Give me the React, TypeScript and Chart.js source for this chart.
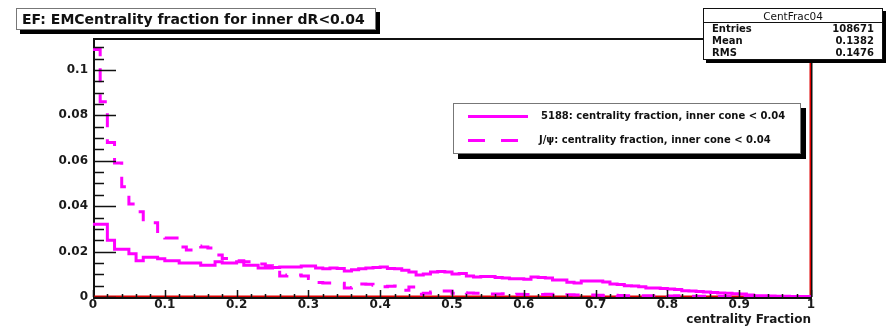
import React, { useEffect, useRef } from "react";
import { Chart, registerables } from "chart.js";

Chart.register(...registerables);

// Histogram binning: 100 bins of width 0.01 over [0, 1]
const BIN_WIDTH = 0.01;

// 5188 sample: normalised EM centrality fraction per bin
const sample5188 = [
  0.032, 0.032, 0.025, 0.021, 0.021, 0.019, 0.016, 0.0175, 0.0175, 0.0168,
  0.016, 0.016, 0.015, 0.015, 0.015, 0.014, 0.014, 0.0155, 0.015, 0.015,
  0.0155, 0.014, 0.014, 0.0128, 0.0128, 0.013, 0.0132, 0.0132, 0.0132, 0.0137,
  0.0137, 0.0128, 0.0124, 0.0128, 0.0126, 0.0115, 0.012, 0.0124, 0.0128, 0.013,
  0.0132, 0.0125, 0.0124, 0.0118, 0.011, 0.0097, 0.0101, 0.011, 0.0112, 0.011,
  0.0101, 0.0104, 0.0092, 0.0088, 0.009, 0.009, 0.0086, 0.0084, 0.008, 0.008,
  0.0078, 0.0088, 0.0086, 0.0084, 0.0075, 0.0075, 0.0065, 0.0062, 0.007, 0.007,
  0.007, 0.0066, 0.0057, 0.0055, 0.005, 0.0049, 0.0045, 0.004, 0.004, 0.0037,
  0.0035, 0.0033, 0.0028, 0.0026, 0.0024, 0.0022, 0.002, 0.0018, 0.0017, 0.0014,
  0.0013, 0.0009, 0.0006, 0.0005, 0.0004, 0.0003, 0.0003, 0.0002, 0.0002, 0.0002,
];

// J/psi sample: normalised EM centrality fraction per bin
const sampleJpsi = [
  0.109, 0.086, 0.068, 0.059, 0.0486, 0.041, 0.0375, 0.033, 0.0327, 0.027,
  0.026, 0.026, 0.022, 0.0207, 0.0225, 0.022, 0.0216, 0.0185, 0.017, 0.0165,
  0.016, 0.0155, 0.015, 0.0145, 0.0138, 0.0133, 0.0092, 0.0097, 0.0097, 0.0093,
  0.0082, 0.0064, 0.0062, 0.0062, 0.0061, 0.004, 0.0042, 0.0057, 0.0056, 0.0052,
  0.0045, 0.0047, 0.0049, 0.003, 0.0044, 0.0012, 0.0016, 0.0022, 0.0026, 0.0026,
  0.0017, 0.0019, 0.0018, 0.0016, 0.0015, 0.0013, 0.0013, 0.0014, 0.0011, 0.0012,
  0.0011, 0.001, 0.0011, 0.0012, 0.001, 0.0009, 0.001, 0.0009, 0.0008, 0.0009,
  0.0008, 0.0007, 0.0008, 0.0007, 0.0006, 0.0007, 0.0006, 0.0005, 0.0006, 0.0005,
  0.0004, 0.0005, 0.0004, 0.0003, 0.0003, 0.0003, 0.0002, 0.0002, 0.0001, 0.0001,
  0.0001, 0.0001, 0.0001, 0.0001, 0.0001, 0.0001, 0.0001, 0.0001, 0.0001, 0.0001,
];

// Reference histogram: empty up to 1, all entries piled into the bin starting at 1
const refEdges = [0, 1, 1.01];
const refValues = [0, 0.52];

const xTickValues = [0, 0.1, 0.2, 0.3, 0.4, 0.5, 0.6, 0.7, 0.8, 0.9, 1];
const xTickLabels = ["0", "0.1", "0.2", "0.3", "0.4", "0.5", "0.6", "0.7", "0.8", "0.9", "1"];
const yTickValues = [0, 0.02, 0.04, 0.06, 0.08, 0.1];
const yTickLabels = ["0", "0.02", "0.04", "0.06", "0.08", "0.1"];

const X_MINOR_STEP = 0.02;
const Y_MINOR_STEP = 0.005;
const Y_MAX = 0.1132;

const titleText = "EF: EMCentrality fraction for inner dR<0.04";
const xAxisTitle = "centrality Fraction";
const statsName = "CentFrac04";
const statsLabels = ["Entries", "Mean", "RMS"];
const statsValues = ["108671", "0.1382", "0.1476"];
const legendLabels = [
  "5188: centrality fraction, inner cone < 0.04",
  "J/ψ: centrality fraction, inner cone < 0.04",
];

const MAGENTA = "#ff00ff";
const RED = "#e00000";
const FONT = "'DejaVu Sans', 'Liberation Sans', sans-serif";

function histPoints(values: number[]) {
  const pts = values.map((v, i) => ({ x: i * BIN_WIDTH, y: v }));
  pts.push({ x: values.length * BIN_WIDTH, y: values[values.length - 1] });
  return pts;
}

function edgePoints(edges: number[], values: number[]) {
  const pts = values.map((v, i) => ({ x: edges[i], y: v }));
  pts.push({ x: edges[edges.length - 1], y: values[values.length - 1] });
  return pts;
}

// ROOT-style frame: axis lines under the histograms, inward ticks on top
const rootFrame = {
  id: "rootFrame",
  beforeDatasetsDraw(chart: any) {
    const { ctx, chartArea: a } = chart;
    ctx.save();
    ctx.strokeStyle = "#111";
    ctx.lineWidth = 2;
    ctx.beginPath();
    ctx.moveTo(a.left, a.top - 1);
    ctx.lineTo(a.right, a.top - 1);
    ctx.moveTo(a.right + 0.5, a.top - 1);
    ctx.lineTo(a.right + 0.5, a.bottom);
    ctx.stroke();
    ctx.beginPath();
    ctx.moveTo(a.left + 1, a.top - 2);
    ctx.lineTo(a.left + 1, a.bottom + 2);
    ctx.moveTo(a.left, a.bottom + 1);
    ctx.lineTo(a.right + 1, a.bottom + 1);
    ctx.stroke();
    ctx.restore();
  },
  afterDatasetsDraw(chart: any) {
    const { ctx, chartArea: a, scales } = chart;
    const xs = scales.x;
    const ys = scales.y;
    ctx.save();
    ctx.strokeStyle = "#111";
    ctx.lineWidth = 1.5;
    ctx.beginPath();
    for (let k = 0; k * X_MINOR_STEP <= 1 + 1e-9; k++) {
      const v = k * X_MINOR_STEP;
      const major = Math.abs(v * 10 - Math.round(v * 10)) < 1e-6;
      const px = Math.round(xs.getPixelForValue(v)) + 0.5;
      ctx.moveTo(px, a.bottom);
      ctx.lineTo(px, a.bottom - (major ? 7 : 3));
    }
    for (let k = 0; k * Y_MINOR_STEP <= Y_MAX + 1e-9; k++) {
      const v = k * Y_MINOR_STEP;
      const major = Math.abs(v * 50 - Math.round(v * 50)) < 1e-6;
      const py = Math.round(ys.getPixelForValue(v)) + 0.5;
      ctx.moveTo(a.left, py);
      ctx.lineTo(a.left + (major ? 23 : 11), py);
    }
    ctx.stroke();
    ctx.restore();
  },
};

function HistChart() {
  const ref = useRef<HTMLCanvasElement | null>(null);
  useEffect(() => {
    if (!ref.current) return;
    const chart = new Chart(ref.current, {
      type: "line",
      data: {
        datasets: [
          {
            label: legendLabels[0],
            data: histPoints(sample5188),
            borderColor: MAGENTA,
            borderWidth: 3,
            stepped: "before",
            pointRadius: 0,
            fill: false,
          },
          {
            label: legendLabels[1],
            data: histPoints(sampleJpsi),
            borderColor: MAGENTA,
            borderWidth: 3,
            borderDash: [14, 12],
            stepped: "before",
            pointRadius: 0,
            fill: false,
          },
          {
            label: "reference",
            data: edgePoints(refEdges, refValues),
            borderColor: RED,
            borderWidth: 3,
            stepped: "before",
            pointRadius: 0,
            fill: false,
          },
        ],
      },
      options: {
        animation: false,
        responsive: false,
        devicePixelRatio: 1,
        parsing: false,
        layout: { padding: { top: 40, right: 80, left: 0, bottom: 0 } },
        plugins: { legend: { display: false }, tooltip: { enabled: false }, title: { display: false } },
        scales: {
          x: {
            type: "linear",
            min: 0,
            max: 1,
            grid: { display: false, drawTicks: false },
            border: { display: false },
            afterBuildTicks: (s: any) => {
              s.ticks = xTickValues.map((v) => ({ value: v }));
            },
            afterFit: (s: any) => {
              s.height = 30;
            },
            ticks: {
              autoSkip: false,
              maxRotation: 0,
              padding: 1,
              color: "#1a1a1a",
              font: { family: FONT, size: 12, weight: "bold" },
              callback: (_v: any, i: number) => xTickLabels[i],
            },
            title: {
              display: true,
              text: xAxisTitle,
              align: "end",
              color: "#1a1a1a",
              padding: 0,
              font: { family: FONT, size: 12, weight: "bold" },
            },
          },
          y: {
            type: "linear",
            min: 0,
            max: Y_MAX,
            grid: { display: false, drawTicks: false },
            border: { display: false },
            afterBuildTicks: (s: any) => {
              s.ticks = yTickValues.map((v) => ({ value: v }));
            },
            afterFit: (s: any) => {
              s.width = 93;
            },
            ticks: {
              padding: 5,
              color: "#1a1a1a",
              font: { family: FONT, size: 12, weight: "bold" },
              callback: (_v: any, i: number) => yTickLabels[i],
            },
          },
        },
      },
      plugins: [rootFrame],
    });
    return () => chart.destroy();
  }, []);
  return (
    <canvas
      ref={ref}
      width={891}
      height={327}
      style={{ position: "absolute", left: 0, top: 0, width: 891, height: 327 }}
    />
  );
}

const textBase: React.CSSProperties = {
  position: "absolute",
  fontFamily: FONT,
  color: "#111",
  whiteSpace: "nowrap",
  lineHeight: "12px",
};

export default function App() {
  return (
    <div style={{ position: "absolute", left: 0, top: 0, width: 891, height: 327, background: "#fff", overflow: "hidden" }}>
      <HistChart />

      {/* title pave */}
      <div
        style={{
          position: "absolute",
          left: 16,
          top: 8,
          width: 358,
          height: 20,
          background: "#fff",
          border: "1px solid #777",
          boxShadow: "4px 4px 0 #000",
        }}
      >
        <div style={{ ...textBase, left: 5, top: 3, fontSize: 14, fontWeight: "bold", lineHeight: "15px" }}>{titleText}</div>
      </div>

      {/* statistics box */}
      <div
        style={{
          position: "absolute",
          left: 703,
          top: 8,
          width: 178,
          height: 50,
          background: "#fff",
          border: "1px solid #111",
          boxShadow: "3px 3px 0 #000",
        }}
      >
        <div style={{ ...textBase, left: 0, width: 178, textAlign: "center", top: 1, fontSize: 10.5 }}>{statsName}</div>
        <div style={{ position: "absolute", left: 0, top: 13, width: 178, height: 1, background: "#111" }} />
        {statsLabels.map((lab, i) => (
          <React.Fragment key={lab}>
            <div style={{ ...textBase, left: 8, top: 14 + i * 12, fontSize: 10, fontWeight: "bold" }}>{lab}</div>
            <div style={{ ...textBase, right: 8, top: 14 + i * 12, fontSize: 10, fontWeight: "bold" }}>{statsValues[i]}</div>
          </React.Fragment>
        ))}
      </div>

      {/* legend */}
      <div
        style={{
          position: "absolute",
          left: 453,
          top: 103,
          width: 346,
          height: 49,
          background: "#fff",
          border: "1px solid #777",
          boxShadow: "5px 5px 0 #000",
        }}
      >
        <div style={{ position: "absolute", left: 14, top: 11, width: 60, height: 3, background: MAGENTA }} />
        <div style={{ position: "absolute", left: 14, top: 35, width: 17, height: 3, background: MAGENTA }} />
        <div style={{ position: "absolute", left: 47, top: 35, width: 17, height: 3, background: MAGENTA }} />
        <div style={{ ...textBase, left: 87, top: 6, fontSize: 10, fontWeight: "bold" }}>{legendLabels[0]}</div>
        <div style={{ ...textBase, left: 85, top: 30, fontSize: 10, fontWeight: "bold" }}>{legendLabels[1]}</div>
      </div>
    </div>
  );
}
